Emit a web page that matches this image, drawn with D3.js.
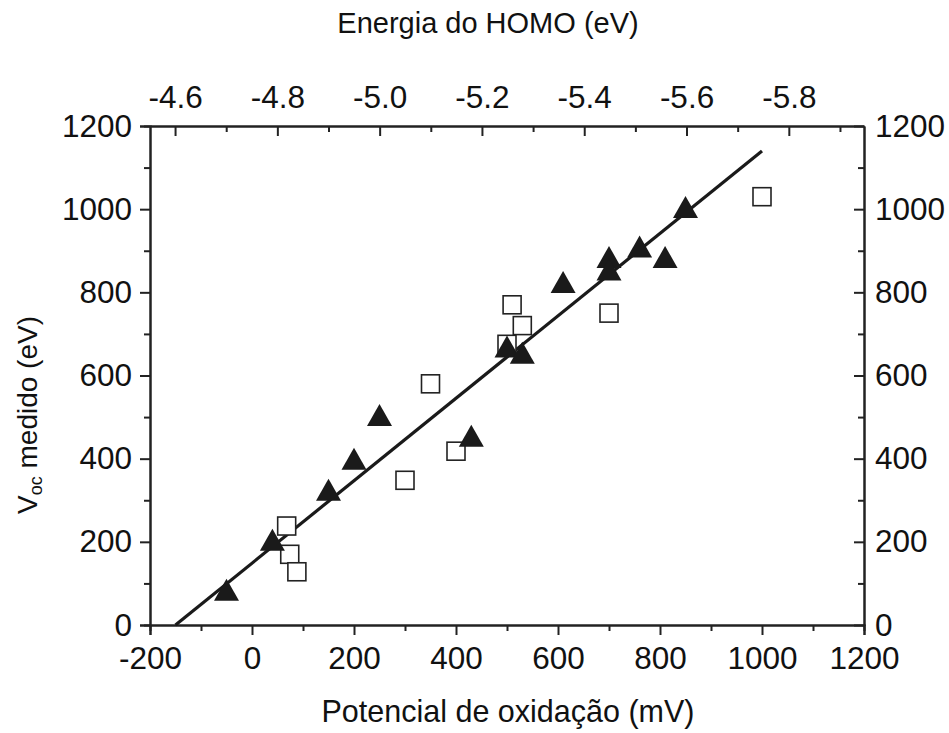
<!DOCTYPE html>
<html>
<head>
<meta charset="utf-8">
<script src="https://cdn.jsdelivr.net/npm/d3@7.9.0/dist/d3.min.js"></script>
<style>
  body { margin: 0; background: #fff; }
  svg text { font-family: "Liberation Sans", Arial, sans-serif; fill: #111; }
</style>
</head>
<body>
<div id="chart"></div>
<script>
// potencial de oxidação (mV) vs Voc medido
const triangles = [
  [-50, 85], [40, 205], [150, 325], [200, 400], [250, 505], [430, 455],
  [500, 670], [530, 655], [610, 825], [700, 885], [700, 855], [760, 910],
  [810, 885], [850, 1005]
];
const squares = [
  [68, 238], [74, 170], [88, 128], [300, 348], [350, 580], [400, 418],
  [500, 675], [510, 770], [530, 720], [700, 750], [1000, 1030]
];
const fitLine = [[-150, 0], [1000, 1140]];

const xTicks = [-200, 0, 200, 400, 600, 800, 1000, 1200];
const xMinor = [-100, 100, 300, 500, 700, 900, 1100];
const yTicks = [0, 200, 400, 600, 800, 1000, 1200];
const yMinor = [100, 300, 500, 700, 900, 1100];
const homoTicks = [-4.6, -4.8, -5.0, -5.2, -5.4, -5.6, -5.8];
const homoMinor = [-4.7, -4.9, -5.1, -5.3, -5.5, -5.7, -5.9];

const width = 949;
const height = 733;
const margin = { top: 126, right: 85, bottom: 108, left: 150 };

const svg = d3.select('#chart')
  .append('svg')
  .attr('width', width)
  .attr('height', height);

const x = d3.scaleLinear().domain([-200, 1200]).range([margin.left, width - margin.right]);
const y = d3.scaleLinear().domain([0, 1200]).range([height - margin.bottom, margin.top]);
// top axis: energy of HOMO, linked to the bottom scale
const xTop = d3.scaleLinear().domain([-4.551, -5.947]).range([margin.left, width - margin.right]);

const fontSize = 31.5;
const plain = d => (d < 0 ? '-' : '') + Math.abs(d);

function styleAxis(g) {
  g.selectAll('.domain').attr('stroke', '#222').attr('stroke-width', 2);
  g.selectAll('.tick line').attr('stroke', '#222').attr('stroke-width', 2);
  g.selectAll('.tick text').style('font-size', fontSize + 'px').attr('fill', '#111');
}

// bottom
svg.append('g')
  .attr('transform', `translate(0, ${y(0)})`)
  .call(d3.axisBottom(x).tickValues(xTicks).tickSize(10).tickPadding(12).tickFormat(plain))
  .call(styleAxis);
svg.append('g')
  .attr('transform', `translate(0, ${y(0)})`)
  .call(d3.axisBottom(x).tickValues(xMinor).tickSize(6).tickFormat(''))
  .call(styleAxis);

// left
svg.append('g')
  .attr('transform', `translate(${x(-200)}, 0)`)
  .call(d3.axisLeft(y).tickValues(yTicks).tickSize(10).tickPadding(8).tickFormat(plain))
  .call(styleAxis);
svg.append('g')
  .attr('transform', `translate(${x(-200)}, 0)`)
  .call(d3.axisLeft(y).tickValues(yMinor).tickSize(6).tickFormat(''))
  .call(styleAxis);

// right (ticks inside)
svg.append('g')
  .attr('transform', `translate(${x(1200)}, 0)`)
  .call(d3.axisRight(y).tickValues(yTicks).tickSizeInner(-10).tickSizeOuter(0).tickPadding(11).tickFormat(plain))
  .call(styleAxis);
svg.append('g')
  .attr('transform', `translate(${x(1200)}, 0)`)
  .call(d3.axisRight(y).tickValues(yMinor).tickSizeInner(-6).tickSizeOuter(0).tickFormat(''))
  .call(styleAxis);

// top (ticks inside)
svg.append('g')
  .attr('transform', `translate(0, ${y(1200)})`)
  .call(d3.axisTop(xTop).tickValues(homoTicks).tickSizeInner(-10).tickSizeOuter(0).tickPadding(18)
    .tickFormat(d => d3.format('.1f')(d).replace('−', '-')))
  .call(styleAxis);
svg.append('g')
  .attr('transform', `translate(0, ${y(1200)})`)
  .call(d3.axisTop(xTop).tickValues(homoMinor).tickSizeInner(-6).tickSizeOuter(0).tickFormat(''))
  .call(styleAxis);

// fit line
svg.append('path')
  .datum(fitLine)
  .attr('fill', 'none')
  .attr('stroke', '#1a1a1a')
  .attr('stroke-width', 3.2)
  .attr('d', d3.line().x(d => x(d[0])).y(d => y(d[1])));

// open squares
const sq = 18;
svg.append('g')
  .selectAll('rect')
  .data(squares)
  .join('rect')
  .attr('x', d => x(d[0]) - sq / 2)
  .attr('y', d => y(d[1]) - sq / 2)
  .attr('width', sq)
  .attr('height', sq)
  .attr('fill', '#fff')
  .attr('stroke', '#222')
  .attr('stroke-width', 1.6);

// filled triangles
const tw = 25, th = 22;
svg.append('g')
  .selectAll('path')
  .data(triangles)
  .join('path')
  .attr('transform', d => `translate(${x(d[0])}, ${y(d[1])})`)
  .attr('d', `M0,${-th / 2}L${tw / 2},${th / 2}L${-tw / 2},${th / 2}Z`)
  .attr('fill', '#1a1a1a');

// axis titles
svg.append('text')
  .attr('x', 488)
  .attr('y', 33)
  .attr('text-anchor', 'middle')
  .style('font-size', '29px')
  .text('Energia do HOMO (eV)');

svg.append('text')
  .attr('x', 508)
  .attr('y', 722)
  .attr('text-anchor', 'middle')
  .style('font-size', '30.5px')
  .text('Potencial de oxidação (mV)');

const yTitle = svg.append('text')
  .attr('transform', 'translate(37, 415) rotate(-90)')
  .attr('text-anchor', 'middle')
  .style('font-size', '28px');
yTitle.append('tspan').text('V');
yTitle.append('tspan').attr('dy', 5).style('font-size', '18px').text('oc');
yTitle.append('tspan').attr('dy', -5).text(' medido (eV)');
</script>
</body>
</html>
